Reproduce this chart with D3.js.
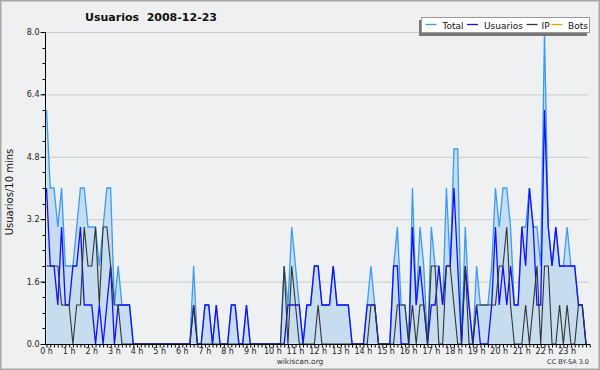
<!DOCTYPE html>
<html><head><meta charset="utf-8">
<script src="https://cdn.jsdelivr.net/npm/d3@7"></script>
<style>
html,body{margin:0;padding:0;background:#fff;}
svg{display:block;font-family:"DejaVu Sans",Verdana,sans-serif;}
</style></head>
<body>
<svg id="c" width="600" height="370"></svg>
<script>
const hourLabels = ["0 h","1 h","2 h","3 h","4 h","5 h","6 h","7 h","8 h","9 h","10 h","11 h","12 h","13 h","14 h","15 h","16 h","17 h","18 h","19 h","20 h","21 h","22 h","23 h"];
const yTicks = [0, 1.6, 3.2, 4.8, 6.4, 8.0];
const seriesNames = ["Total","Usuarios","IP","Bots"];
const seriesColors = ["#3a9cf2","#1010ff","#333333","#ff9900"];

const total = [6,4,4,3,4,2,2,2,3,4,4,3,3,3,2,3,4,4,1,2,1,1,1,0,
 0,0,0,0,0,0,0,0,0,0,0,0,0,0,0,2,0,0,1,1,0,1,0,0,
 0,1,1,0,0,1,0,0,0,0,0,0,0,0,0,2,1,3,2,1,0,1,1,2,
 2,1,1,1,2,1,1,1,1,0,0,0,0,1,2,1,0,0,0,0,2,3,1,1,
 0,4,1,3,2,0,3,2,2,1,4,2,5,5,0,3,1,0,2,1,1,1,2,4,
 3,4,4,3,1,1,3,3,4,3,3,2,8,3,2,3,2,2,3,2,2,1,1,0];
const usuarios = [4,2,2,1,3,1,1,2,2,3,1,1,1,0,1,0,1,2,0,1,1,1,1,0,
 0,0,0,0,0,0,0,0,0,0,0,0,0,0,0,1,0,0,1,1,0,1,0,0,
 0,1,1,0,0,1,0,0,0,0,0,0,0,0,0,0,1,1,1,1,0,1,1,2,
 2,1,1,1,2,1,1,1,1,0,0,0,0,1,1,1,0,0,0,0,2,2,0,0,
 0,3,1,2,1,0,1,1,2,1,2,2,4,2,0,2,1,0,1,0,0,0,1,3,
 1,2,1,2,1,1,3,2,4,3,1,1,6,3,2,3,2,2,2,2,2,1,1,0];
const ip = [2,2,2,2,1,1,1,0,1,1,3,2,2,3,1,3,3,2,1,1,0,0,0,0,
 0,0,0,0,0,0,0,0,0,0,0,0,0,0,0,1,0,0,0,0,0,0,0,0,
 0,0,0,0,0,0,0,0,0,0,0,0,0,0,0,2,0,2,1,0,0,0,0,0,
 1,0,0,0,0,0,0,0,0,0,0,0,0,0,1,1,0,0,0,0,0,1,1,1,
 0,1,0,1,1,0,2,2,0,0,2,2,1,0,0,2,0,0,1,1,1,1,1,1,
 2,2,3,1,0,0,0,1,0,1,2,0,2,2,0,0,1,0,1,0,0,1,1,0];
const bots = new Array(144).fill(0);

const svg = d3.select("#c");
const W = 600, H = 370;
svg.append("rect").attr("x",0.75).attr("y",0.75).attr("width",W-1.5).attr("height",H-1.5)
  .attr("fill","#eff0f1").attr("stroke","#a8a8a8").attr("stroke-width",1.5);

const x = d3.scaleLinear().domain([0,143]).range([46.5,586]);
const y = d3.scaleLinear().domain([0,8]).range([344,32]);

svg.append("g").selectAll("line").data(yTicks.filter(d=>d>0)).join("line")
  .attr("x1",46).attr("x2",589).attr("y1",d=>y(d)+0.5).attr("y2",d=>y(d)+0.5)
  .attr("stroke","#cacaca").attr("stroke-width",1);

const idx = d3.range(144);
svg.append("path").datum(idx)
  .attr("d", d3.area().x(i=>x(i)).y0(y(0)).y1(i=>y(total[i])))
  .attr("fill","#c6dcef");

function line(arr, color, w){
  svg.append("path").datum(idx)
    .attr("d", d3.line().x(i=>x(i)).y(i=>y(arr[i])))
    .attr("fill","none").attr("stroke",color).attr("stroke-width",w)
    .attr("stroke-linejoin","miter");
}
line(total, seriesColors[0], 1.3);
line(usuarios, seriesColors[1], 1.3);
line(ip, seriesColors[2], 1.1);

const yAxis = d3.axisLeft(y).tickValues(yTicks).tickFormat(d3.format(".1f")).tickSize(5).tickPadding(1);
const gy = svg.append("g").attr("transform","translate(45.5,0)").call(yAxis);
gy.select(".domain").attr("stroke","#000").attr("d","M0,32V344");
gy.selectAll(".tick line").attr("stroke","#000");
gy.selectAll("text").attr("font-size",8).attr("fill","#222").attr("font-family","DejaVu Sans");
svg.append("g").selectAll("line").data(d3.range(0,8.01,0.4)).join("line")
  .attr("x1",42.5).attr("x2",45.5).attr("y1",d=>Math.round(y(d))+0.5).attr("y2",d=>Math.round(y(d))+0.5)
  .attr("stroke","#000");

const xt = d3.scaleLinear().domain([0,144]).range([x(0), x(0)+144*(x(1)-x(0))]);
const xAxis = d3.axisBottom(xt).tickValues(d3.range(0,145,1)).tickSize(3).tickFormat(()=>"");
const gx = svg.append("g").attr("transform","translate(0,344.5)").call(xAxis);
gx.select(".domain").attr("stroke","#000").attr("d","M45.5,0H590");
gx.selectAll(".tick line").attr("stroke","#000");
svg.append("g").selectAll("text").data(hourLabels).join("text")
  .attr("x",(d,i)=>xt(i*6)).attr("y",354).attr("text-anchor","middle")
  .attr("font-size",8).attr("fill","#222").text(d=>d);

svg.append("text").attr("x",151).attr("y",21).attr("text-anchor","middle")
  .attr("font-size",11).attr("font-weight","bold").attr("fill","#111")
  .attr("xml:space","preserve").text("Usuarios  2008-12-23");

svg.append("text").attr("transform","translate(13,192) rotate(-90)").attr("text-anchor","middle")
  .attr("font-size",10).attr("fill","#111").text("Usuarios/10 mins");

svg.append("text").attr("x",300).attr("y",364).attr("text-anchor","middle")
  .attr("font-size",7.5).attr("fill","#333").text("wikiscan.org");
svg.append("text").attr("x",589).attr("y",364).attr("text-anchor","end")
  .attr("font-size",6.5).attr("fill","#333").text("CC BY-SA 3.0");

const lg = svg.append("g");
lg.append("rect").attr("x",419).attr("y",20).attr("width",168).attr("height",16).attr("fill","#777");
lg.append("rect").attr("x",421.5).attr("y",17.5).attr("width",168).attr("height",15).attr("fill","#fff").attr("stroke","#999");
const legX = [425.5, 467, 526.5, 551.5];
const legT = [442.5, 484, 541.5, 568];
seriesNames.forEach((n,k)=>{
  lg.append("line").attr("x1",legX[k]).attr("x2",legX[k]+11).attr("y1",24.5).attr("y2",24.5)
    .attr("stroke",seriesColors[k]).attr("stroke-width",1.3);
  lg.append("text").attr("x",legT[k]).attr("y",28.5).attr("font-size",9).attr("fill","#111").text(n);
});
</script>
</body></html>
